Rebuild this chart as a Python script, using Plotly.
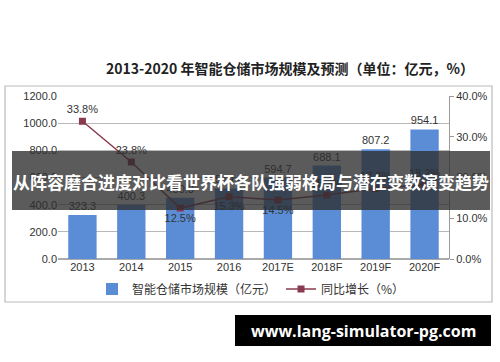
import plotly.graph_objects as go

years = ["2013", "2014", "2015", "2016", "2017E", "2018F", "2019F", "2020F"]
market_size = [323.3, 400.3, 450.3, 519.4, 594.7, 688.1, 807.2, 954.1]
growth = [33.8, 23.8, 12.5, 15.3, 14.5, 15.7, 17.3, 18.2]
growth_pos = ["top center", "top center", "bottom center", "bottom center",
              "bottom center", "top center", "top center", "top center"]

title = "2013-2020 年智能仓储市场规模及预测（单位：亿元，%）"
banner = "从阵容磨合进度对比看世界杯各队强弱格局与潜在变数演变趋势"
site = "www.lang-simulator-pg.com"

W, H = 500, 362
L, R, T, B = 58, 449, 96, 259


def px(x):
    return (x - L) / (R - L)


def py(y):
    return (B - y) / (B - T)


fig = go.Figure()
fig.add_trace(go.Bar(
    x=years, y=market_size, name="智能仓储市场规模（亿元）",
    marker=dict(color="#5B8DD6", line=dict(width=0)), width=0.58,
    text=[f"{v:.1f}" for v in market_size], textposition="outside",
    textfont=dict(size=11, color="#333333", family="Liberation Sans"),
    cliponaxis=False,
))
fig.add_trace(go.Scatter(
    x=years, y=growth, name="同比增长（%）", yaxis="y2",
    mode="lines+markers+text",
    line=dict(color="#8A3A4E", width=1.5),
    marker=dict(symbol="square", size=7, color="#8A3A4E"),
    text=[f"{v:.1f}%" for v in growth], textposition=growth_pos,
    textfont=dict(size=11, color="#333333", family="Liberation Sans"),
    cliponaxis=False,
))

shapes = [
    dict(type="rect", xref="paper", yref="paper", x0=px(5), x1=px(492), y0=py(86), y1=py(302),
         line=dict(color="#BBBBBB", width=1.2), fillcolor="rgba(0,0,0,0)", layer="below"),
    dict(type="rect", xref="paper", yref="paper", x0=px(12), x1=px(490), y0=py(151), y1=py(210),
         line=dict(width=0), fillcolor="rgba(45,45,45,0.78)", layer="above"),
    dict(type="rect", xref="paper", yref="paper", x0=px(235), x1=px(491), y0=py(315), y1=py(346),
         line=dict(width=0), fillcolor="#000000", layer="above"),
]

annotations = [
    dict(text=title, xref="paper", yref="paper", x=px(290), y=py(68), showarrow=False,
         xanchor="center", yanchor="middle",
         font=dict(size=14, color="#222222", family="Noto Sans CJK SC", weight="bold")),
    dict(text=banner, xref="paper", yref="paper", x=px(251), y=py(181), showarrow=False,
         xanchor="center", yanchor="middle",
         font=dict(size=17, color="#FFFFFF", family="Noto Sans CJK SC", weight="bold")),
    dict(text=site, xref="paper", yref="paper", x=px(363), y=py(330.5), showarrow=False,
         xanchor="center", yanchor="middle",
         font=dict(size=16, color="#FFFFFF", family="Open Sans", weight="bold")),
]

fig.update_layout(
    width=W, height=H,
    margin=dict(l=L, r=W - R, t=T, b=H - B, pad=0),
    paper_bgcolor="#FFFFFF", plot_bgcolor="#FFFFFF",
    font=dict(family="Liberation Sans", size=11, color="#333333"),
    showlegend=True,
    legend=dict(orientation="h", x=px(92), y=py(289), xanchor="left", yanchor="middle",
                font=dict(size=12, color="#333333", family="Noto Sans CJK SC"),
                itemwidth=30, bgcolor="rgba(0,0,0,0)"),
    bargap=0.42,
    xaxis=dict(showgrid=False, showline=False, ticks="", tickfont=dict(size=11, color="#333333"),
               fixedrange=True),
    yaxis=dict(range=[0, 1200], dtick=200, tickformat=".1f", showgrid=True,
               gridcolor="#B8B8B8", gridwidth=1, zeroline=True, zerolinecolor="#AAAAAA",
               showline=False, ticks="", tickfont=dict(size=11, color="#333333")),
    yaxis2=dict(range=[0, 40], dtick=10, overlaying="y", side="right",
                tickvals=[0, 10, 20, 30, 40], ticktext=["0.0%", "10.0%", "20.0%", "30.0%", "40.0%"],
                showgrid=False, zeroline=False, showline=True, linecolor="#999999",
                ticks="outside", ticklen=4, tickcolor="#999999",
                tickfont=dict(size=11, color="#333333")),
    shapes=shapes,
    annotations=annotations,
)

fig.write_html("out.html")
